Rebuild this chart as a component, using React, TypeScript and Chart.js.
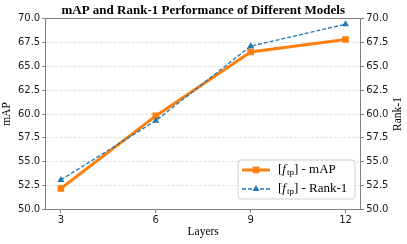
import React, { useEffect, useRef } from "react";
import { Chart, registerables } from "chart.js";

Chart.register(...registerables);

// ---- data ----
const layers = [3, 6, 9, 12];
const mapValues = [52.2, 59.8, 66.5, 67.8];
const rank1Values = [53.1, 59.3, 67.1, 69.4];
const yTickValues = [50, 52.5, 55, 57.5, 60, 62.5, 65, 67.5, 70];
const titleText = "mAP and Rank-1 Performance of Different Models";
const xAxisTitle = "Layers";
const yLeftTitle = "mAP";
const yRightTitle = "Rank-1";
const legendSuffixes = [" - mAP", " - Rank-1"];

// ---- style ----
const ORANGE = "#ff7f0e";
const BLUE = "#1f77b4";
const SPINE = "#808080";
const GRID = "#dcdcdc";
const TEXT = "#1a1a1a";
const SERIF = "'Liberation Serif', 'Times New Roman', serif";
const SANS = "'DejaVu Sans', sans-serif";

function drawMarker(ctx: CanvasRenderingContext2D, style: string, x: number, y: number, r: number, color: string) {
  ctx.fillStyle = color;
  ctx.beginPath();
  if (style === "rect") {
    const s = Math.SQRT1_2 * r;
    ctx.rect(x - s, y - s, 2 * s, 2 * s);
  } else {
    let rad = 0;
    ctx.moveTo(x + Math.sin(rad) * r, y - Math.cos(rad) * r);
    rad += (2 * Math.PI) / 3;
    ctx.lineTo(x + Math.sin(rad) * r, y - Math.cos(rad) * r);
    rad += (2 * Math.PI) / 3;
    ctx.lineTo(x + Math.sin(rad) * r, y - Math.cos(rad) * r);
    ctx.closePath();
  }
  ctx.fill();
}

const decorPlugin = {
  id: "decor",
  afterDraw(chart: any) {
    const { ctx, chartArea: a } = chart;
    ctx.save();
    // top spine
    ctx.strokeStyle = SPINE;
    ctx.lineWidth = 1;
    const ty = Math.floor(a.top) + 0.5;
    ctx.beginPath();
    ctx.moveTo(a.left, ty);
    ctx.lineTo(a.right, ty);
    ctx.stroke();

    const cx = (a.left + a.right) / 2;
    const cy = (a.top + a.bottom) / 2;

    // title
    ctx.fillStyle = "#000";
    ctx.font = `bold 13px ${SERIF}`;
    ctx.textAlign = "center";
    ctx.textBaseline = "middle";
    ctx.fillText(titleText, cx, 10.5);

    // axis titles
    ctx.font = `11.5px ${SERIF}`;
    ctx.fillText(xAxisTitle, cx, a.bottom + 22);
    ctx.save();
    ctx.translate(7, cy);
    ctx.rotate(-Math.PI / 2);
    ctx.fillText(yLeftTitle, 0, 0);
    ctx.restore();
    ctx.save();
    ctx.translate(a.right + 37.5, cy);
    ctx.rotate(-Math.PI / 2);
    ctx.fillText(yRightTitle, 0, 0);
    ctx.restore();

    // legend
    const bw = 117;
    const bh = 39;
    const bx = a.right - 5.7 - bw;
    const by = a.bottom - 10.5 - bh;
    ctx.beginPath();
    const rr = 3;
    ctx.moveTo(bx + rr, by);
    ctx.lineTo(bx + bw - rr, by);
    ctx.arcTo(bx + bw, by, bx + bw, by + rr, rr);
    ctx.lineTo(bx + bw, by + bh - rr);
    ctx.arcTo(bx + bw, by + bh, bx + bw - rr, by + bh, rr);
    ctx.lineTo(bx + rr, by + bh);
    ctx.arcTo(bx, by + bh, bx, by + bh - rr, rr);
    ctx.lineTo(bx, by + rr);
    ctx.arcTo(bx, by, bx + rr, by, rr);
    ctx.closePath();
    ctx.fillStyle = "rgba(255,255,255,0.85)";
    ctx.fill();
    ctx.strokeStyle = "#d0d0d0";
    ctx.lineWidth = 1;
    ctx.stroke();

    const order = [0, 1];
    order.forEach((di, row) => {
      const ds = chart.data.datasets[di];
      const ly = by + 10 + row * 19;
      const x1 = bx + 4;
      const x2 = bx + 32;
      ctx.save();
      ctx.strokeStyle = ds.borderColor;
      ctx.lineWidth = ds.borderWidth;
      ctx.setLineDash(ds.borderDash || []);
      ctx.beginPath();
      ctx.moveTo(x1, ly);
      ctx.lineTo(x2, ly);
      ctx.stroke();
      ctx.restore();
      drawMarker(ctx, ds.pointStyle, (x1 + x2) / 2, ly, ds.pointRadius, ds.backgroundColor);

      let tx = bx + 40;
      ctx.fillStyle = "#000";
      ctx.textAlign = "left";
      ctx.textBaseline = "middle";
      ctx.font = `13px ${SERIF}`;
      ctx.fillText("[", tx, ly);
      tx += ctx.measureText("[").width;
      ctx.font = `italic 13px ${SERIF}`;
      ctx.fillText("f", tx, ly);
      tx += ctx.measureText("f").width + 1;
      ctx.font = `9px ${SERIF}`;
      ctx.fillText("tp", tx, ly + 3);
      tx += ctx.measureText("tp").width;
      ctx.font = `13px ${SERIF}`;
      ctx.fillText("]" + legendSuffixes[di], tx, ly);
    });
    ctx.restore();
  },
};

export default function App() {
  const ref = useRef<HTMLCanvasElement | null>(null);

  useEffect(() => {
    if (!ref.current) return;
    const tickFont = { family: SANS, size: 10 };
    const chart = new Chart(ref.current, {
      type: "line",
      data: {
        datasets: [
          {
            label: "mAP",
            data: layers.map((x, i) => ({ x, y: mapValues[i] })),
            borderColor: ORANGE,
            backgroundColor: ORANGE,
            borderWidth: 3,
            pointStyle: "rect",
            pointRadius: 4.7,
            pointBorderWidth: 0,
            yAxisID: "y",
            order: 1,
          },
          {
            label: "Rank-1",
            data: layers.map((x, i) => ({ x, y: rank1Values[i] })),
            borderColor: BLUE,
            backgroundColor: BLUE,
            borderWidth: 1.3,
            borderDash: [4, 2],
            pointStyle: "triangle",
            pointRadius: 4,
            pointBorderWidth: 0,
            yAxisID: "y2",
            order: 0,
          },
        ] as any,
      },
      options: {
        animation: false,
        responsive: false,
        devicePixelRatio: 1,
        layout: { padding: { top: 18.5, left: 0, right: 0, bottom: 0 } },
        plugins: {
          legend: { display: false },
          title: { display: false },
          tooltip: { enabled: false },
        },
        scales: {
          x: {
            type: "linear",
            min: 2.52,
            max: 12.48,
            afterBuildTicks: (s: any) => {
              s.ticks = layers.map((v) => ({ value: v }));
            },
            afterFit: (s: any) => {
              s.height = 34.5;
            },
            ticks: { font: tickFont, color: TEXT, padding: 1.5, maxRotation: 0 },
            grid: { drawOnChartArea: false, tickLength: 3.5, tickColor: SPINE, tickWidth: 1 },
            border: { color: SPINE, width: 1 },
          },
          y: {
            type: "linear",
            position: "left",
            min: 50,
            max: 70,
            afterBuildTicks: (s: any) => {
              s.ticks = yTickValues.map((v) => ({ value: v }));
            },
            afterFit: (s: any) => {
              s.width = 45.7;
            },
            ticks: { font: tickFont, color: TEXT, padding: 2, callback: (v: any) => Number(v).toFixed(1) },
            grid: { color: GRID, lineWidth: 0.8, tickLength: 3.5, tickColor: SPINE, tickWidth: 1 },
            border: { color: SPINE, width: 1, dash: [3, 1.5] },
          },
          y2: {
            type: "linear",
            position: "right",
            min: 50,
            max: 70,
            afterBuildTicks: (s: any) => {
              s.ticks = yTickValues.map((v) => ({ value: v }));
            },
            afterFit: (s: any) => {
              s.width = 46.3;
            },
            ticks: { font: tickFont, color: TEXT, padding: 2, callback: (v: any) => Number(v).toFixed(1) },
            grid: { drawOnChartArea: false, tickLength: 3.5, tickColor: SPINE, tickWidth: 1 },
            border: { color: SPINE, width: 1 },
          },
        },
      } as any,
      plugins: [decorPlugin],
    });
    return () => chart.destroy();
  }, []);

  return (
    <div style={{ position: "absolute", left: 0, top: 0, width: 407, height: 244, background: "#fff" }}>
      <canvas ref={ref} width={407} height={244} style={{ width: 407, height: 244, display: "block" }} />
    </div>
  );
}
